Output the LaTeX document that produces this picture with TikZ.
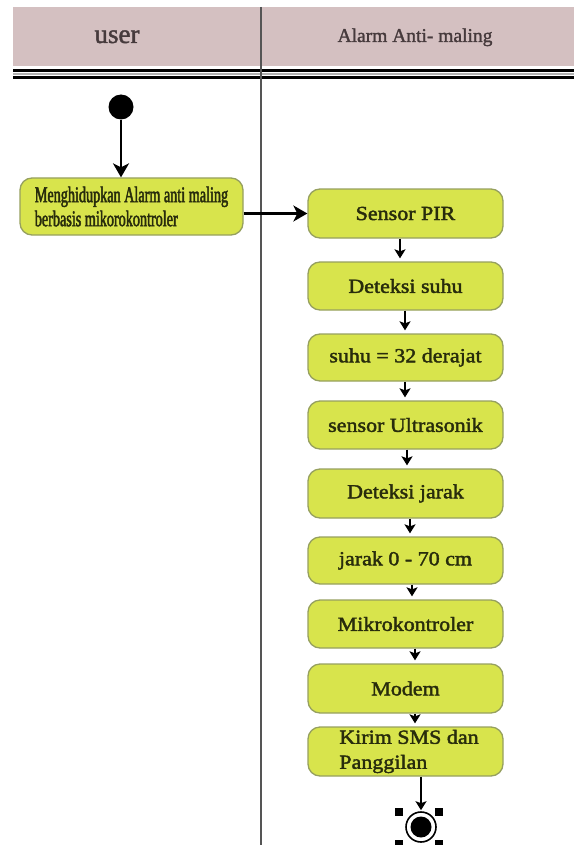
\documentclass[tikz,border=0pt]{standalone}
\usepackage{fontspec}
\setmainfont{Liberation Serif}[FakeBold=1.2]
\newfontfamily\hdrfont[FakeBold=1.5]{Liberation Serif}
\newfontfamily\boxfont[FakeStretch=1.1,FakeBold=2]{Liberation Serif}
\newfontfamily\condfont[FakeStretch=0.63,FakeBold=2]{Liberation Serif}
\usetikzlibrary{arrows.meta}
\definecolor{hdrfill}{RGB}{212,192,193}
\definecolor{hdrtext}{RGB}{70,58,60}
\definecolor{boxfill}{RGB}{216,228,76}
\definecolor{boxedge}{RGB}{150,160,95}
\definecolor{boxtext}{RGB}{40,44,12}
\definecolor{lane}{RGB}{85,85,85}
\tikzset{
  act/.style={draw=boxedge, fill=boxfill, rounded corners=12pt, line width=1.3pt,
    minimum width=195pt, minimum height=48pt, inner sep=0pt, text=boxtext,
    font=\boxfont\fontsize{20}{25}\selectfont},
  bigarr/.style={line width=2.8pt, -{Stealth[length=14pt,width=16pt,inset=4pt]}},
  smallarr/.style={line width=1.8pt, -{Stealth[length=9pt,width=11pt,inset=2pt]}, shorten >=3pt},
  handle/.style={fill=black, minimum size=8.5pt, inner sep=0pt},
  hdr/.style={text=hdrtext, anchor=base, font=\hdrfont}
}
\begin{document}
\begin{tikzpicture}[x=1pt, y=-1pt]
\useasboundingbox (0,0) rectangle (574,845);
% header
\fill[hdrfill] (13,7) rectangle (574,66);
\draw[black, line width=3pt] (13,70.5) -- (574,70.5);
\draw[gray!60, line width=1.5pt] (13,74) -- (574,74);
\draw[black, line width=2.2pt] (13,77.5) -- (574,77.5);
\draw[lane, line width=1.6pt] (261,7) -- (261,845);
\node[hdr] (huser) at (117,43) {\fontsize{27}{30}\selectfont user};
\node[hdr] (halarm) at (415,42) {\fontsize{19.5}{22}\selectfont Alarm Anti- maling};
% start
\node[circle, fill=black, minimum size=25pt, inner sep=0pt] (start) at (121,107) {};
\node[act, minimum width=223pt, minimum height=57pt, align=left,
  font=\condfont\fontsize{22.5}{24}\selectfont] (b1) at (131.5,206.5)
  {Menghidupkan Alarm anti maling\\berbasis mikorokontroler};
\draw[bigarr] (start) -- (b1.north -| start);
% right lane
\node[act, minimum height=49pt] (pir) at (405.5,213.5) {Sensor PIR};
\node[act] (ds) at (405.5,286) {Deteksi suhu};
\node[act, minimum height=47pt] (suhu) at (405.5,357.5) {suhu = 32 derajat};
\node[act] (us) at (405.5,425) {sensor Ultrasonik};
\node[act, minimum height=49pt] (dj) at (405.5,493.5) {Deteksi jarak};
\node[act, minimum height=47pt] (jarak) at (405.5,560.5) {jarak 0 - 70 cm};
\node[act] (mikro) at (405.5,624) {Mikrokontroler};
\node[act, minimum height=49pt] (modem) at (405.5,688.5) {Modem};
\node[act, minimum height=49pt, align=left] (kirim) at (405.5,751.5) {\hspace*{7pt}Kirim SMS dan\\\hspace*{7pt}Panggilan};
\draw[bigarr] (pir.west -| b1.east) -- (pir.west);
\draw[smallarr] (pir.south -| 400,0) -- (ds.north -| 400,0);
\draw[smallarr] (ds.south -| 405,0) -- (suhu.north -| 405,0);
\draw[smallarr] (suhu.south -| 405,0) -- (us.north -| 405,0);
\draw[smallarr] (us.south -| 407,0) -- (dj.north -| 407,0);
\draw[smallarr] (dj.south -| 410,0) -- (jarak.north -| 410,0);
\draw[smallarr] (jarak.south -| 412,0) -- (mikro.north -| 412,0);
\draw[smallarr] (mikro.south -| 415,0) -- (modem.north -| 415,0);
\draw[smallarr] (modem.south -| 415,0) -- (kirim.north -| 415,0);
% end
\node[circle, draw=black, line width=1.6pt, minimum size=30pt, inner sep=0pt] (end) at (421,827) {};
\fill[black] (end.center) circle (10.5);
\draw[smallarr, shorten >=1pt] (kirim.south -| end) -- (end.north);
\node[handle] (h1) at (399,812) {};
\node[handle] (h2) at (439,812) {};
\node[handle] (h3) at (399,844) {};
\node[handle] (h4) at (439,844) {};
\end{tikzpicture}
\end{document}
